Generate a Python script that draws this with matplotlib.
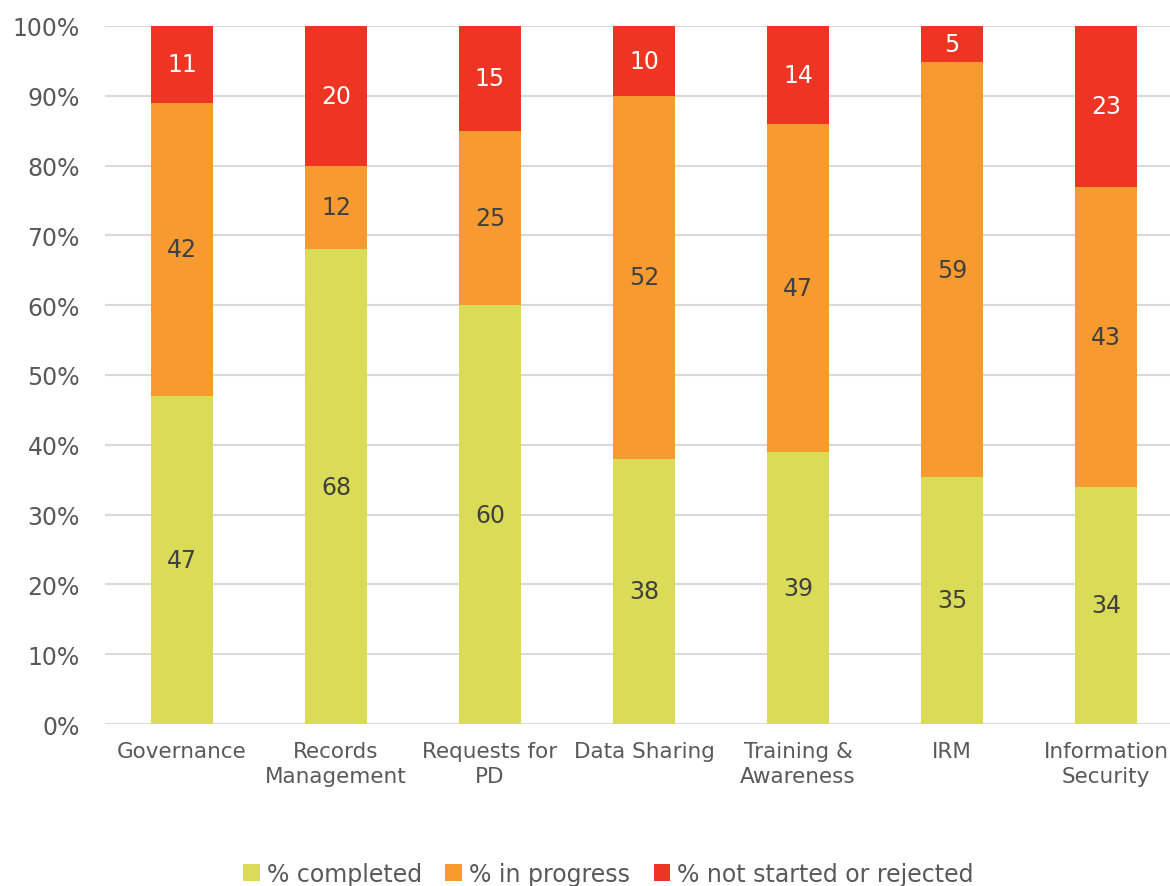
import matplotlib
matplotlib.use("Agg")
import matplotlib.pyplot as plt
import numpy as np

categories = ["Governance", "Records\nManagement", "Requests for\nPD", "Data Sharing",
              "Training &\nAwareness", "IRM", "Information\nSecurity"]
completed = [47, 68, 60, 38, 39, 35.4, 34]
in_progress = [42, 12, 25, 52, 47, 59.4, 43]
not_started = [11, 20, 15, 10, 14, 5.2, 23]
series_names = ["% completed", "% in progress", "% not started or rejected"]
colors = ["#DADB57", "#F79B30", "#EE3524"]
label_colors = ["#404040", "#404040", "#FFFFFF"]

plt.rcParams['font.family'] = ['DejaVu Sans']
fig = plt.figure(figsize=(11.7, 8.87), dpi=100)
ax = fig.add_axes([0.0897, 0.1826, 0.9103, 0.787])

x = np.arange(len(categories))
data = [completed, in_progress, not_started]
bottom = np.zeros(len(categories))
for vals, name, c, lc in zip(data, series_names, colors, label_colors):
    vals = np.array(vals, dtype=float)
    ax.bar(x, vals / 100.0, bottom=bottom / 100.0, width=0.4, color=c,
           label=name, zorder=3)
    for xi, v, b in zip(x, vals, bottom):
        ax.text(xi, (b + v / 2) / 100.0, f"{round(v):d}", ha="center", va="center",
                fontsize=17, color=lc, zorder=4)
    bottom = bottom + vals

ax.set_ylim(0, 1)
ax.set_xlim(-0.5, 6.415)
ticks = np.linspace(0, 1, 11)
ax.set_yticks(ticks)
ax.set_yticklabels([f"{int(round(t*100))}%" for t in ticks])
ax.set_xticks(x)
ax.set_xticklabels(categories, fontsize=15.5, color="#595959", linespacing=1.3)
ax.tick_params(axis="y", labelsize=17, labelcolor="#595959", length=0, pad=18)
ax.tick_params(axis="x", length=0, pad=12)
ax.grid(axis="y", color="#D9D9D9", linewidth=1.5, zorder=0)
for s in ax.spines.values():
    s.set_visible(False)

leg = fig.legend(loc="center", bbox_to_anchor=(0.52, 0.014), ncol=3, frameon=False,
                 fontsize=17, handlelength=0.7, handleheight=0.7, handletextpad=0.3,
                 columnspacing=1.0)
for t in leg.get_texts():
    t.set_color("#595959")

fig.savefig("out.png", dpi=100)
